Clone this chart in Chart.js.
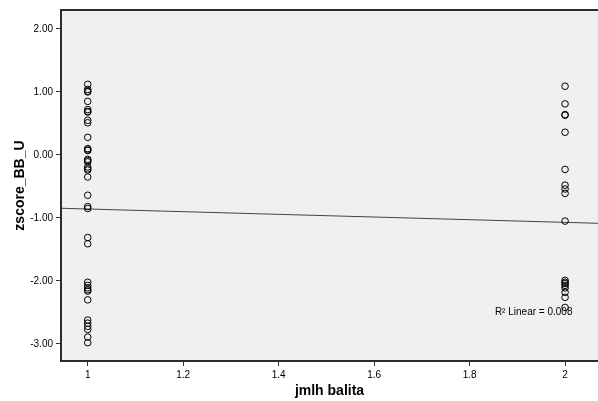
<!DOCTYPE html>
<html>
<head>
<meta charset="utf-8">
<script src="https://cdn.jsdelivr.net/npm/chart.js@4"></script>
<style>
  html, body { margin: 0; padding: 0; background: #ffffff; }
  #wrap { width: 598px; height: 401px; }
</style>
</head>
<body>
<div id="wrap"><canvas id="c" width="598" height="401"></canvas></div>
<script>
// ---- data ----
const groupValues = [1, 2];  // jmlh balita
const scoresGroup1 = [1.12, 1.04, 1.01, 1.00, 0.85, 0.72, 0.69, 0.68, 0.55, 0.51, 0.28, 0.10, 0.08, 0.07,
  -0.07, -0.09, -0.11, -0.19, -0.22, -0.24, -0.35, -0.64, -0.82, -0.85, -1.31, -1.41,
  -2.02, -2.07, -2.11, -2.14, -2.16, -2.30, -2.62, -2.67, -2.72, -2.77, -2.89, -2.98];
const scoresGroup2 = [1.09, 0.81, 0.64, 0.63, 0.36, -0.23, -0.48, -0.54, -0.61, -1.05,
  -1.99, -2.02, -2.04, -2.07, -2.11, -2.18, -2.26, -2.42];
const xTicks = [1, 1.2, 1.4, 1.6, 1.8, 2];
const yTicks = [2, 1, 0, -1, -2, -3];
const fitIntercept = -0.646;   // linear fit line
const fitSlope = -0.212;
const r2Label = 'R\u00B2 Linear = 0.008';
const r2Pos = [1.853, -2.50];
const xRange = [0.944, 2.069];
const yRange = [-3.27, 2.30];

// ---- build datasets ----
const points = [];
scoresGroup1.forEach(v => points.push({x: groupValues[0], y: v}));
scoresGroup2.forEach(v => points.push({x: groupValues[1], y: v}));
const fitPoints = xRange.map(x => ({x: x, y: fitIntercept + fitSlope * x}));

const FONT = "'Liberation Sans', Arial, sans-serif";

const frame = {
  id: 'frame',
  beforeDatasetsDraw(chart) {
    const {ctx, chartArea: a} = chart;
    ctx.save();
    ctx.fillStyle = '#f0f0f0';
    ctx.fillRect(a.left, a.top, a.right - a.left, a.bottom - a.top);
    ctx.restore();
  },
  afterDatasetsDraw(chart) {
    const {ctx, chartArea: a, scales} = chart;
    ctx.save();
    ctx.strokeStyle = '#2b2b2b';
    ctx.lineWidth = 2;
    ctx.beginPath();
    ctx.moveTo(a.right + 2, a.top);
    ctx.lineTo(a.left, a.top);
    ctx.lineTo(a.left, a.bottom);
    ctx.lineTo(a.right + 2, a.bottom);
    ctx.stroke();
    // R² annotation
    ctx.fillStyle = '#000';
    ctx.font = '10px ' + FONT;
    ctx.textBaseline = 'middle';
    ctx.textAlign = 'left';
    ctx.fillText(r2Label, scales.x.getPixelForValue(r2Pos[0]), scales.y.getPixelForValue(r2Pos[1]));
    ctx.restore();
  }
};

new Chart(document.getElementById('c'), {
  type: 'scatter',
  data: {
    datasets: [
      {
        label: 'zscore_BB_U',
        data: points,
        pointStyle: 'circle',
        pointRadius: 3.3,
        pointHoverRadius: 3.3,
        borderColor: '#000',
        backgroundColor: 'rgba(0,0,0,0)',
        borderWidth: 1,
        order: 1
      },
      {
        type: 'line',
        label: 'fit',
        data: fitPoints,
        borderColor: '#444',
        borderWidth: 1,
        pointRadius: 0,
        fill: false,
        order: 2
      }
    ]
  },
  options: {
    responsive: false,
    animation: false,
    events: [],
    layout: { autoPadding: false, padding: { top: 10, right: 0, left: 0, bottom: 0 } },
    plugins: { legend: { display: false }, tooltip: { enabled: false } },
    scales: {
      x: {
        type: 'linear',
        min: xRange[0],
        max: xRange[1],
        afterBuildTicks: s => { s.ticks = xTicks.map(v => ({value: v})); },
        afterFit: s => { s.height = 40; s.paddingLeft = 0; s.paddingRight = 0; },
        border: { display: false },
        grid: { display: true, drawOnChartArea: false, drawTicks: true, tickLength: 5, tickColor: '#333', tickWidth: 1 },
        ticks: {
          color: '#000', font: { family: FONT, size: 10 }, padding: 3, maxRotation: 0,
          callback: v => String(Math.round(v * 10) / 10)
        },
        title: { display: true, text: 'jmlh balita', color: '#000',
          font: { family: FONT, size: 14, weight: 'bold' }, padding: { top: 0, bottom: 1 } }
      },
      y: {
        type: 'linear',
        min: yRange[0],
        max: yRange[1],
        afterBuildTicks: s => { s.ticks = yTicks.map(v => ({value: v})); },
        afterFit: s => { s.width = 61; s.paddingTop = 0; s.paddingBottom = 0; },
        border: { display: false },
        grid: { display: true, drawOnChartArea: false, drawTicks: true, tickLength: 5, tickColor: '#333', tickWidth: 1 },
        ticks: { color: '#000', font: { family: FONT, size: 10 }, padding: 3,
          callback: v => Number(v).toFixed(2) },
        title: { display: true, text: 'zscore_BB_U', color: '#000',
          font: { family: FONT, size: 14, weight: 'bold' }, padding: { top: 12, bottom: 0 } }
      }
    }
  },
  plugins: [frame]
});
</script>
</body>
</html>
